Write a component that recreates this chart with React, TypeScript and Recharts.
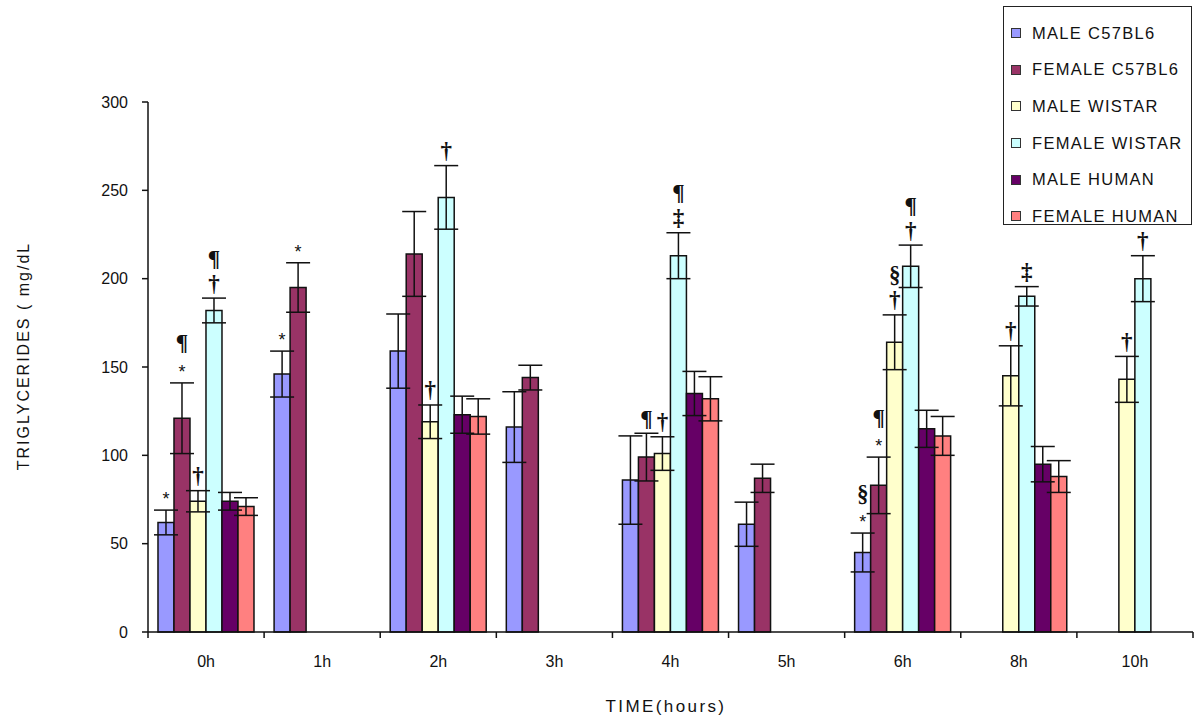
import React from 'react';
import { BarChart, Bar, XAxis, YAxis, ErrorBar, LabelList, ReferenceLine } from 'recharts';

const categories = ['0h', '1h', '2h', '3h', '4h', '5h', '6h', '8h', '10h'];

const maleC57 = [62, 146, 159, 116, 86, 61, 45, null, null];
const maleC57Err = [7, 13, 21, 20, 25, 12.5, 11, null, null];
const femaleC57 = [121, 195, 214, 144, 99, 87, 83, null, null];
const femaleC57Err = [20, 14, 24, 7, 13.5, 8, 16, null, null];
const maleWistar = [74, null, 119, null, 101, null, 164, 145, 143];
const maleWistarErr = [6, null, 9.5, null, 9.5, null, 15.5, 17, 13];
const femaleWistar = [182, null, 246, null, 213, null, 207, 190, 200];
const femaleWistarErr = [7, null, 18, null, 13, null, 12, 5.5, 13];
const maleHuman = [74, null, 123, null, 135, null, 115, 95, null];
const maleHumanErr = [5, null, 10.5, null, 12.5, null, 10.5, 10, null];
const femaleHuman = [71, null, 122, null, 132, null, 111, 88, null];
const femaleHumanErr = [5, null, 10, null, 12.5, null, 11, 9, null];

// significance marks, written top to bottom
const maleC57Marks = ['*', '*', '', '', '', '', '§*', '', ''];
const femaleC57Marks = ['¶*', '*', '', '', '¶', '', '¶*', '', ''];
const maleWistarMarks = ['†', '', '†', '', '†', '', '§†', '†', '†'];
const femaleWistarMarks = ['¶†', '', '†', '', '¶‡', '', '¶†', '‡', '†'];

const yTicks = [0, 50, 100, 150, 200, 250, 300];

const series = [
  { key: 'maleC57', name: 'MALE C57BL6', color: '#9999FF', vals: maleC57, errs: maleC57Err, marks: maleC57Marks },
  { key: 'femaleC57', name: 'FEMALE C57BL6', color: '#993366', vals: femaleC57, errs: femaleC57Err, marks: femaleC57Marks },
  { key: 'maleWistar', name: 'MALE WISTAR', color: '#FFFFCC', vals: maleWistar, errs: maleWistarErr, marks: maleWistarMarks },
  { key: 'femaleWistar', name: 'FEMALE WISTAR', color: '#CCFFFF', vals: femaleWistar, errs: femaleWistarErr, marks: femaleWistarMarks },
  { key: 'maleHuman', name: 'MALE HUMAN', color: '#660066', vals: maleHuman, errs: maleHumanErr, marks: null },
  { key: 'femaleHuman', name: 'FEMALE HUMAN', color: '#FF8080', vals: femaleHuman, errs: femaleHumanErr, marks: null },
];

const data = categories.map((c, i) => {
  const row: any = { cat: c };
  series.forEach((s) => {
    row[s.key] = s.vals[i];
    row[s.key + 'Err'] = s.errs[i];
    if (s.marks) row[s.key + 'Mark'] = s.marks[i];
  });
  return row;
});

const font = '"Liberation Sans", Arial, sans-serif';

const markContent = (props: any) => {
  const vb = props.viewBox || {};
  const x = props.x ?? vb.x;
  const y = props.y ?? vb.y;
  const width = props.width ?? vb.width;
  const height = props.height ?? vb.height;
  const info = props.value;
  if (!info || !info.m || info.v == null || info.e == null) return null;
  const errTop = y - (info.e * Math.abs(height)) / info.v;
  const cx = x + width / 2;
  const syms = Array.from(String(info.m)).reverse();
  return (
    <g>
      {syms.map((s, i) => {
        const star = s === '*';
        const cy = errTop - (star ? 11 : 15) - i * 25;
        return (
          <text
            key={i}
            x={cx}
            y={cy}
            textAnchor="middle"
            dominantBaseline="central"
            fontFamily={star ? font : '"Liberation Serif", "Times New Roman", serif'}
            fontWeight={star ? 400 : 700}
            fontSize={star ? 18 : 23}
            fill="#111"
          >
            {s}
          </text>
        );
      })}
    </g>
  );
};

const LegendBox = () => (
  <div
    style={{
      position: 'absolute',
      left: 1003,
      top: 6,
      width: 189,
      height: 219,
      border: '1.5px solid #222',
      background: '#fff',
      boxSizing: 'border-box',
      fontFamily: font,
      fontSize: 16.5,
      color: '#111',
      paddingTop: 8,
    }}
  >
    {series.map((s) => (
      <div key={s.key} style={{ display: 'flex', alignItems: 'center', height: 36.6, paddingLeft: 7 }}>
        <span style={{ width: 8, height: 8, background: s.color, border: '1px solid #333', marginRight: 11 }} />
        <span style={{ letterSpacing: 1.3, whiteSpace: 'nowrap' }}>{s.name}</span>
      </div>
    ))}
  </div>
);

export default function App() {
  return (
    <div style={{ position: 'absolute', left: 0, top: 0, width: 1200, height: 719, background: '#fff' }}>
      <BarChart
        width={1200}
        height={719}
        data={data}
        margin={{ top: 102, right: 7, bottom: 0, left: 88 }}
        barCategoryGap="8.6%"
        barGap={0}
      >
        <XAxis
          dataKey="cat"
          height={87}
          axisLine={{ stroke: '#111', strokeWidth: 1.5 }}
          tickLine={false}
          tickMargin={18}
          interval={0}
          tick={{ fontSize: 16, fill: '#111', fontFamily: font }}
        />
        <YAxis
          width={60}
          domain={[0, 300]}
          ticks={yTicks}
          tickSize={6}
          tickMargin={14}
          axisLine={{ stroke: '#111', strokeWidth: 1.5 }}
          tickLine={{ stroke: '#111', strokeWidth: 1.5 }}
          tick={{ fontSize: 16, fill: '#111', fontFamily: font }}
        />
        {/* category boundary ticks below the x axis */}
        {categories.map((c) => (
          <ReferenceLine
            key={'t' + c}
            segment={[{ x: c, y: 0 }, { x: c, y: -3.4 }]}
            position="start"
            ifOverflow="visible"
            stroke="#111"
            strokeWidth={1.5}
          />
        ))}
        <ReferenceLine
          segment={[{ x: categories[categories.length - 1], y: 0 }, { x: categories[categories.length - 1], y: -3.4 }]}
          position="end"
          ifOverflow="visible"
          stroke="#111"
          strokeWidth={1.5}
        />
        {series.map((s) => (
          <Bar
            key={s.key}
            dataKey={s.key}
            name={s.name}
            fill={s.color}
            stroke="#111"
            strokeWidth={1.5}
            isAnimationActive={false}
          >
            <ErrorBar dataKey={s.key + 'Err'} width={12} stroke="#111" strokeWidth={1.5} direction="y" />
            {s.marks && (
              <LabelList
                dataKey={(row: any) => ({ m: row[s.key + 'Mark'], v: row[s.key], e: row[s.key + 'Err'] })}
                content={markContent}
              />
            )}
          </Bar>
        ))}
      </BarChart>
      <LegendBox />
      <div
        style={{
          position: 'absolute',
          left: 24,
          top: 356,
          transform: 'translate(-50%, -50%) rotate(-90deg)',
          fontFamily: font,
          fontSize: 16,
          letterSpacing: 2,
          whiteSpace: 'nowrap',
          color: '#111',
        }}
      >
        TRIGLYCERIDES ( mg/dL
      </div>
      <div
        style={{
          position: 'absolute',
          left: 666,
          top: 707,
          transform: 'translate(-50%, -50%)',
          fontFamily: font,
          fontSize: 17,
          letterSpacing: 2.4,
          whiteSpace: 'nowrap',
          color: '#111',
        }}
      >
        TIME(hours)
      </div>
    </div>
  );
}
